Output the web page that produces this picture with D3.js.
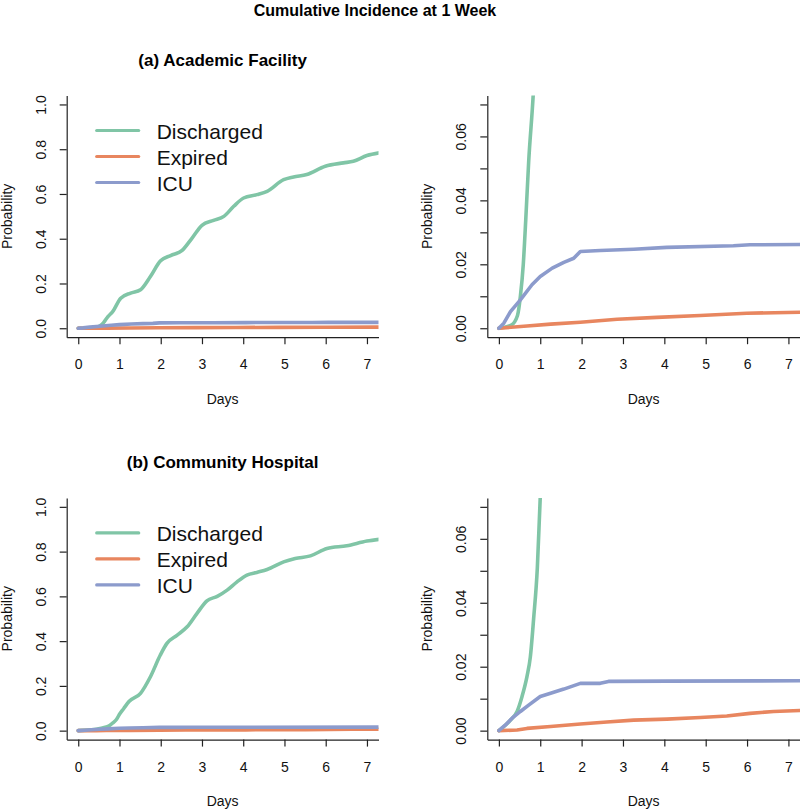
<!DOCTYPE html>
<html>
<head>
<meta charset="utf-8">
<script src="https://cdn.jsdelivr.net/npm/d3@7"></script>
<style>
  html, body { margin: 0; padding: 0; background: #fff; }
  svg { display: block; font-family: "Liberation Sans", Arial, Helvetica, sans-serif; }
</style>
</head>
<body>
<svg id="chart" width="800" height="810"></svg>
<script>
// ---------------- DATA ----------------
const seriesNames = ["Discharged", "Expired", "ICU"];
const seriesColors = ["#80c5a6", "#e8865f", "#8c9bcc"];
const xTicks = [0, 1, 2, 3, 4, 5, 6, 7];
const yTicksFull = [0, 0.2, 0.4, 0.6, 0.8, 1.0];
const yTicksZoom = [0, 0.01, 0.02, 0.03, 0.04, 0.05, 0.06, 0.07];
const yLabelsZoom = [0, 0.02, 0.04, 0.06];
const panelTitles = ["(a) Academic Facility", "(b) Community Hospital"];
const mainTitle = "Cumulative Incidence at 1 Week";

// (a) Academic Facility
const academicDischargedDays = [0, 0.3, 0.45, 0.52, 0.59, 0.65, 0.72, 0.83, 1.03, 1.27, 1.51, 1.75, 1.99, 2.24, 2.52, 2.76, 3.0, 3.28, 3.53, 3.77, 4.01, 4.33, 4.58, 4.98, 5.22, 5.54, 5.99, 6.43, 6.67, 7.0, 7.3];
const academicDischargedProb = [0, 0.001, 0.004, 0.010, 0.020, 0.034, 0.052, 0.073, 0.134, 0.157, 0.172, 0.231, 0.300, 0.325, 0.348, 0.403, 0.460, 0.482, 0.500, 0.545, 0.582, 0.597, 0.612, 0.664, 0.676, 0.687, 0.724, 0.739, 0.746, 0.772, 0.784];
const academicExpiredDays = [0, 0.68, 1.25, 1.97, 2.86, 3.82, 4.87, 5.99, 7.3];
const academicExpiredProb = [0, 0.0007, 0.0013, 0.0019, 0.0028, 0.0034, 0.0040, 0.0047, 0.0050];
const academicIcuDays = [0, 0.12, 0.28, 0.52, 0.80, 1.0, 1.29, 1.57, 1.81, 1.97, 2.45, 3.26, 4.06, 5.67, 6.07, 7.3];
const academicIcuProb = [0, 0.0016, 0.0052, 0.0089, 0.0136, 0.0162, 0.0188, 0.0206, 0.0219, 0.0240, 0.0243, 0.0247, 0.0253, 0.0258, 0.0261, 0.0262];

// (b) Community Hospital
const communityDischargedDays = [0, 0.28, 0.44, 0.56, 0.68, 0.76, 0.84, 0.93, 1.0, 1.1, 1.23, 1.51, 1.75, 1.99, 2.15, 2.40, 2.64, 2.88, 3.12, 3.37, 3.61, 3.85, 4.09, 4.33, 4.58, 4.98, 5.26, 5.63, 6.03, 6.51, 7.0, 7.3];
const communityDischargedProb = [0, 0.0033, 0.006, 0.0107, 0.017, 0.023, 0.035, 0.051, 0.073, 0.098, 0.130, 0.167, 0.241, 0.338, 0.390, 0.427, 0.464, 0.524, 0.580, 0.600, 0.628, 0.665, 0.695, 0.707, 0.720, 0.754, 0.769, 0.781, 0.814, 0.826, 0.847, 0.855];
const communityExpiredDays = [0, 0.44, 0.68, 1.25, 1.97, 2.61, 3.26, 4.06, 4.87, 5.51, 6.07, 6.64, 7.3];
const communityExpiredProb = [0, 0.0002, 0.0007, 0.0013, 0.0021, 0.0027, 0.0033, 0.0036, 0.0041, 0.0046, 0.0054, 0.0060, 0.0063];
const communityIcuDays = [0, 0.16, 0.32, 0.52, 0.72, 1.0, 1.25, 1.57, 1.97, 2.45, 2.65, 4.06, 7.3];
const communityIcuProb = [0, 0.0018, 0.0039, 0.0060, 0.0080, 0.0107, 0.0117, 0.0130, 0.0148, 0.0148, 0.0154, 0.0155, 0.0156];

// ---------------- BUILD ----------------
const zip = (xs, ys) => xs.map((x, i) => ({ x: x, y: ys[i] }));
const facilities = [
  [zip(academicDischargedDays, academicDischargedProb), zip(academicExpiredDays, academicExpiredProb), zip(academicIcuDays, academicIcuProb)],
  [zip(communityDischargedDays, communityDischargedProb), zip(communityExpiredDays, communityExpiredProb), zip(communityIcuDays, communityIcuProb)]
];

const svg = d3.select("#chart");

svg.append("text")
  .attr("x", 375).attr("y", 16)
  .attr("text-anchor", "middle")
  .attr("font-weight", "bold")
  .attr("font-size", 16)
  .text(mainTitle);

const rowOffset = 402.4;
const xDomain = [-0.28, 7.28];

function drawPanel(g, id, left, right, top, bottom, yDomain, yTicks, yLabels, data, showLegend) {
  const x = d3.scaleLinear().domain(xDomain).range([left, right]);
  const y = d3.scaleLinear().domain(yDomain).range([bottom, top]);

  g.append("clipPath").attr("id", id)
    .append("rect").attr("x", left).attr("y", top).attr("width", right - left).attr("height", bottom - top);

  // x axis
  const xa = g.append("g").attr("transform", `translate(0,${bottom})`)
    .call(d3.axisBottom(x).tickValues(xTicks).tickSize(7).tickSizeOuter(0).tickPadding(0).tickFormat(d3.format("d")));
  xa.selectAll("text").attr("font-size", 14).attr("dy", null).attr("y", 32).attr("fill", "#111");
  xa.selectAll("line, path").attr("stroke", "#222").attr("stroke-width", 1.2);
  xa.attr("font-family", null);

  // y axis
  const ya = g.append("g").attr("transform", `translate(${left},0)`)
    .call(d3.axisLeft(y).tickValues(yTicks).tickSize(7).tickSizeOuter(0)
      .tickFormat(d => yLabels.some(v => Math.abs(v - d) < 1e-9) ? (yDomain[1] > 0.5 ? d3.format(".1f")(d) : d3.format(".2f")(d)) : ""));
  ya.selectAll("text")
    .attr("font-size", 14).attr("fill", "#111")
    .attr("x", null).attr("dy", null)
    .attr("text-anchor", "middle")
    .attr("transform", "translate(-21,0) rotate(-90)");
  ya.selectAll("line, path").attr("stroke", "#222").attr("stroke-width", 1.2);
  ya.attr("font-family", null);

  // axis titles
  g.append("text")
    .attr("transform", `translate(${left - 55},${(top + bottom) / 2}) rotate(-90)`)
    .attr("text-anchor", "middle").attr("font-size", 14).attr("fill", "#111")
    .text("Probability");
  g.append("text")
    .attr("x", x(3.5)).attr("y", bottom + 66.5)
    .attr("text-anchor", "middle").attr("font-size", 14).attr("fill", "#111")
    .text("Days");

  // lines
  const lineGen = (curve) => d3.line().x(d => x(d.x)).y(d => y(d.y)).curve(curve);
  const lines = g.append("g").attr("clip-path", `url(#${id})`);
  data.forEach((s, i) => {
    lines.append("path")
      .datum(s)
      .attr("d", lineGen(i === 0 ? d3.curveMonotoneX : d3.curveLinear))
      .attr("fill", "none")
      .attr("stroke", seriesColors[i])
      .attr("stroke-width", 3.6)
      .attr("stroke-linejoin", "round")
      .attr("stroke-linecap", "round");
  });

  if (showLegend) {
    const lg = g.append("g");
    seriesNames.forEach((name, i) => {
      const ly = top + 35 + i * 26;
      lg.append("line")
        .attr("x1", left + 30).attr("x2", left + 72)
        .attr("y1", ly).attr("y2", ly)
        .attr("stroke", seriesColors[i]).attr("stroke-width", 3.2).attr("stroke-linecap", "round");
      lg.append("text")
        .attr("x", left + 90).attr("y", ly + 8)
        .attr("font-size", 21).attr("fill", "#111")
        .text(name);
    });
  }
  return x;
}

[0, 1].forEach(r => {
  const off = r * rowOffset;
  const g = svg.append("g");
  const leftL = 66.7, rightL = 378.5;
  g.append("text")
    .attr("x", (leftL + rightL) / 2).attr("y", 65.6 + off)
    .attr("text-anchor", "middle")
    .attr("font-weight", "bold")
    .attr("font-size", 17)
    .text(panelTitles[r]);
  drawPanel(g, "clipL" + r, leftL, rightL, 95.5 + off, 337.2 + off, [-0.04, 1.04], yTicksFull, yTicksFull, facilities[r], true);
  drawPanel(g, "clipR" + r, 487.3, 800, 95.5 + off, 337.2 + off, [-0.0028, 0.0728], yTicksZoom, yLabelsZoom, facilities[r], false);
});
</script>
</body>
</html>
